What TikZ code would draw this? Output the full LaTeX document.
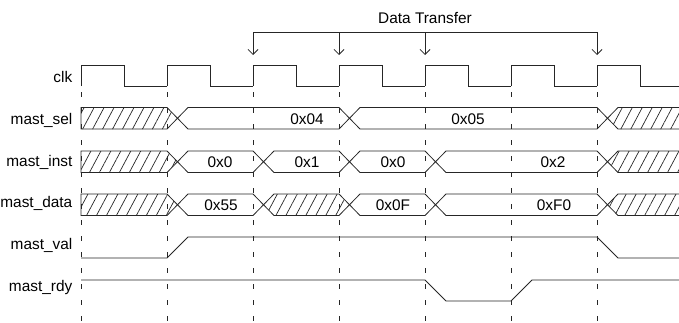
\documentclass[tikz,border=0pt]{standalone}
\usepackage{fontspec}
\setmainfont{Liberation Sans}
\usetikzlibrary{arrows.meta,patterns.meta}

\begin{document}
\begin{tikzpicture}
  [x=1pt,y=-1pt,
   every node/.style={inner sep=0pt,font=\fontsize{15.4pt}{18pt}\selectfont},
   sig/.style={draw=black!85,line width=0.8pt,line join=miter},
   bus/.style={sig},
   dontcare/.style={sig,pattern={Lines[angle=62,distance=8.8pt,line width=0.7pt]},pattern color=black!85},
   tick/.style={draw=black!85,line width=0.8pt,dash pattern=on 5pt off 11pt},
   xfer/.style={draw=black!85,line width=0.8pt,-{Straight Barb[length=5pt,width=10pt]}},
   lbl/.style={anchor=base east}]
  \useasboundingbox (0,0) rectangle (679,322);
  \clip (0,0) rectangle (679,322);

  % cycle marks
  \foreach \x in {81,167,253,339,425,511,597}
    \draw[tick] (\x,92) -- (\x,322);

  % signal names
  \node[lbl] (lclk) at (72.5,82.5) {clk};
  \node[lbl] (lsel) at (72.5,124) {mast\_sel};
  \node[lbl] (linst) at (72.5,166) {mast\_inst};
  \node[lbl] (ldata) at (72.5,207.5) {mast\_data};
  \node[lbl] (lval) at (72.5,249) {mast\_val};
  \node[lbl] (lrdy) at (72.5,291) {mast\_rdy};

  % clock
  \foreach \e in {81,167,253,339,425,511,597}
    \draw[sig] (\e,86) -- (\e,65) -- (\e+43,65) -- (\e+43,86) -- (\e+86,86);

  % unknown values at both ends
  \foreach \t in {107.5,151,194} {
    \draw[dontcare] (81,\t) -- (167,\t) -- (177.5,\t+10.75) -- (167,\t+21.5) -- (81,\t+21.5) -- cycle;
    \draw[dontcare] (607.5,\t+10.75) -- (618,\t) -- (690,\t) -- (690,\t+21.5) -- (618,\t+21.5) -- cycle;
  }
  \draw[dontcare] (263.5,204.75) -- (274,194) -- (339,194) -- (349.5,204.75) -- (339,215.5) -- (274,215.5) -- cycle;

  % valid values
  \foreach \t/\s/\e in {107.5/167/339,107.5/339/597,
                        151/167/253,151/253/339,151/339/425,151/425/597,
                        194/167/253,194/339/425,194/425/597}
    \draw[bus] (\s+10.5,\t+10.75) -- (\s+21,\t) -- (\e,\t) -- (\e+10.5,\t+10.75)
      -- (\e,\t+21.5) -- (\s+21,\t+21.5) -- cycle;

  \node (s04) at (307,118.75) {0x04};
  \node (s05) at (468,118.75) {0x05};
  \node (i00) at (220,161.75) {0x0};
  \node (i01) at (307,161.75) {0x1};
  \node (i02) at (393,161.75) {0x0};
  \node (i03) at (553,161.75) {0x2};
  \node (d55) at (221,204.75) {0x55};
  \node (d0f) at (393,204.75) {0x0F};
  \node (df0) at (554,204.75) {0xF0};

  % handshake
  \draw[sig] (81,258) -- (167,258) -- (188,237) -- (597,237) -- (618,258) -- (690,258);
  \draw[sig] (81,280) -- (425,280) -- (446,301) -- (511,301) -- (532,280) -- (690,280);

  % transfers
  \node (dt) at (425,17.5) {Data Transfer};
  \foreach \i/\x in {1/253,2/339,3/425,4/597} {
    \coordinate (top\i) at (\x,32);
    \coordinate (tip\i) at (\x,55);
  }
  \draw[sig] (top1) -- (top4);
  \foreach \i in {1,2,3,4}
    \draw[xfer] (top\i) -- (tip\i);
\end{tikzpicture}
\end{document}
